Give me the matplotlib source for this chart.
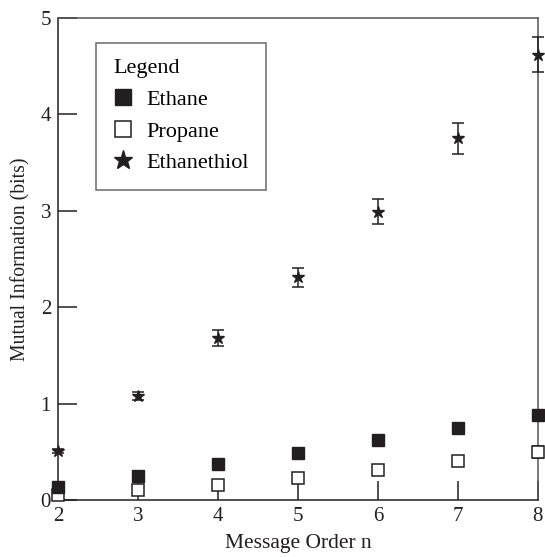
import matplotlib
matplotlib.use("Agg")
import matplotlib.pyplot as plt
from matplotlib.lines import Line2D

plt.rcParams['font.family'] = ['Liberation Serif', 'DejaVu Serif']

# data
n = [2, 3, 4, 5, 6, 7, 8]
ethane = [0.13, 0.25, 0.37, 0.49, 0.62, 0.75, 0.88]
propane = [0.05, 0.10, 0.16, 0.23, 0.31, 0.40, 0.50]
propane_err = [0, 0, 0, 0, 0, 0.03, 0.06]
ethanethiol = [0.51, 1.08, 1.68, 2.31, 2.99, 3.75, 4.62]
ethanethiol_err = [0.02, 0.04, 0.08, 0.10, 0.13, 0.16, 0.18]

dark = '#231f20'

fig = plt.figure(figsize=(5.45, 5.57), dpi=100)
ax = fig.add_axes([0.1064, 0.1023, 0.8806, 0.8654])

ax.errorbar(n, ethanethiol, yerr=ethanethiol_err, fmt='*', color=dark,
            ms=9, capsize=4.5, elinewidth=1.1, capthick=1.1, clip_on=False, zorder=3)
ax.errorbar(n, propane, yerr=propane_err, fmt='s', mfc='white', mec=dark,
            ecolor=dark, ms=8, mew=1.1, capsize=4.5, elinewidth=1.1,
            capthick=1.1, clip_on=False, zorder=3)
ax.plot(n, ethane, 's', color=dark, ms=8.5, clip_on=False, zorder=4)

ax.set_xlim(2, 8)
ax.set_ylim(0, 5)
ax.set_xticks(n)
ax.set_yticks([0, 1, 2, 3, 4, 5])
ax.tick_params(direction='in', length=14, width=1.1, labelsize=15, colors=dark, pad=5)
for s in ['left', 'bottom', 'right', 'top']:
    ax.spines[s].set_linewidth(1.1)
    ax.spines[s].set_color(dark)
ax.spines['right'].set_color('#555555')
ax.spines['top'].set_color('#555555')

ax.set_xlabel('Message Order n', fontsize=15.5, color=dark, labelpad=6)
ax.set_ylabel('Mutual Information (bits)', fontsize=14.2, color=dark, labelpad=7)

handles = [
    Line2D([], [], ls='none', marker='s', color=dark, ms=12),
    Line2D([], [], ls='none', marker='s', mfc='white', mec=dark, ms=12, mew=1.1),
    Line2D([], [], ls='none', marker='*', color=dark, ms=14),
]
leg = ax.legend(handles, ['Ethane', 'Propane', 'Ethanethiol'], title='Legend',
                loc='upper left', bbox_to_anchor=(0.057, 0.972), fontsize=16,
                title_fontsize=16, frameon=True, fancybox=False, edgecolor='#444444',
                handlelength=0.9, handletextpad=0.6, labelspacing=0.5,
                borderpad=0.75, alignment='left')
leg.get_frame().set_linewidth(1.1)

fig.savefig('out.png', dpi=100)
